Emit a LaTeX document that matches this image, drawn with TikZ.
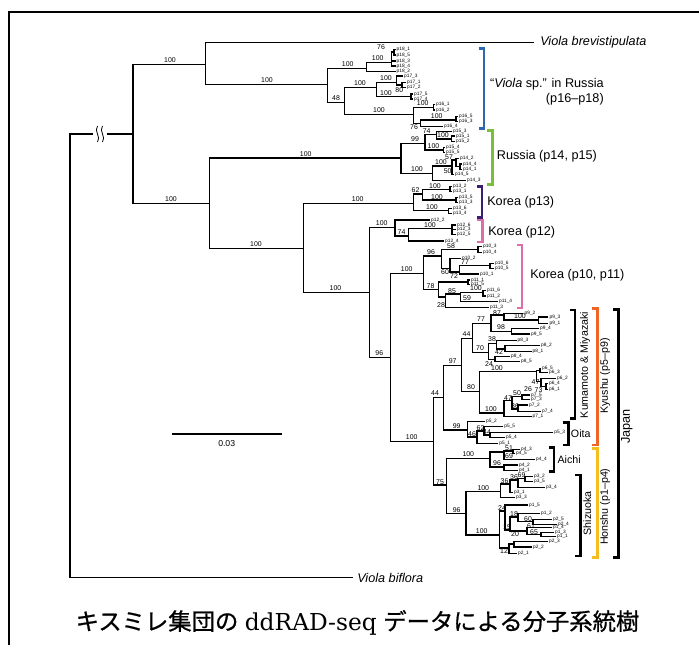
\documentclass[tikz,border=0pt]{standalone}
\usepackage{fontspec}
\setmainfont{Liberation Sans}
\newfontfamily\jpfont[FakeBold=0.8]{Noto Sans CJK JP}
\newfontfamily\ttlserif{DejaVu Serif}

\definecolor{cladeblue}{HTML}{2E68B2}
\definecolor{cladegreen}{HTML}{7ABE3C}
\definecolor{cladepurple}{HTML}{3C1E6E}
\definecolor{cladepink}{HTML}{DC6EAA}
\definecolor{cladeorange}{HTML}{F06428}
\definecolor{cladeyellow}{HTML}{F5BE1E}

% clade: node x, upper y, lower y, end of upper branch, end of lower branch
\newcommand\clade[5]{\draw[br] (#4,#2) -- (#1,#2) -- (#1,#3) -- (#5,#3);}
\newcounter{bsn}
\newcommand\bsv[3]{\stepcounter{bsn}\node[bs] (bs\arabic{bsn}) at (#1,#2) {#3};}
\newcommand\tipl[4]{\node[tip] (p#3-#4) at (#1,#2) {p#3\_#4};}
\newcommand\brak[4]{\draw[#1] ({#2-5.5},#3) -- (#2,#3) -- (#2,#4) -- ({#2-5.5},#4);}

\begin{document}
\begin{tikzpicture}[x=0.75pt,y=-0.75pt,line join=miter,
  br/.style={line width=0.85pt},
  bs/.style={font=\fontsize{5.2}{5.2}\selectfont,inner sep=0pt},
  tip/.style={anchor=west,font=\fontsize{3.6}{3.6}\selectfont,inner sep=0.3pt},
  grp/.style={anchor=west,font=\fontsize{9.5}{11.5}\selectfont,inner sep=0pt},
  sgrp/.style={font=\fontsize{8}{9}\selectfont,inner sep=0pt},
  brk/.style={line width=2.2pt},
  brkk/.style={line width=1.9pt,black}]
\useasboundingbox (0,0) rectangle (699,645);
\draw[line width=1pt] (9,645) -- (9,12) -- (699,12);

% root and outgroups
\draw[br] (92.7,134) -- (70,134) -- (70,577.7) -- (353,577.7);
\draw[br] (107.3,134) -- (133,134);
\draw[line width=0.6pt] (97.5,126) .. controls (93.5,131) and (101.5,137) .. (97.5,142);
\draw[line width=0.6pt] (102.5,126) .. controls (98.5,131) and (106.5,137) .. (102.5,142);
\clade{133}{64.7}{203.7}{205.7}{209.3}
\clade{205.7}{42.7}{84.3}{534.3}{327.7}
\node[grp,font=\fontsize{9.5}{11.5}\selectfont\itshape] (brev) at (540,42.7) {Viola brevistipulata};
\node[grp,font=\fontsize{9.5}{11.5}\selectfont\itshape] (bifl) at (357,577.7) {Viola biflora};
\bsv{170}{60.5}{100}
\bsv{267}{80.3}{100}
\bsv{171}{199.5}{100}

% Viola sp. in Russia
\clade{327.7}{68.3}{102.7}{366.7}{344.3}
\clade{366.7}{62.7}{71.7}{391.7}{395.5}
\clade{391.7}{52}{66}{394}{395.5}
\draw[br] (391.7,61) -- (395.5,61);
\clade{394}{49.5}{55}{395.5}{395.5}
\clade{344.3}{87.3}{114.3}{376.7}{413.3}
\clade{376.7}{82.3}{96.7}{396.7}{411}
\clade{396.7}{76}{85}{403}{402}
\clade{402}{82.3}{87.3}{406}{406}
\clade{411}{94}{99}{413}{413}
\clade{413.3}{107.7}{123.5}{433.3}{420.7}
\clade{433.3}{104.3}{110}{435}{435}
\clade{420.7}{120}{126.7}{456}{443}
\clade{456}{116.7}{121.7}{458}{458}
\tipl{396}{49.5}{18}{1} \tipl{396}{55}{18}{5} \tipl{396}{61}{18}{3} \tipl{396}{66}{18}{4} \tipl{396}{71.7}{18}{2}
\tipl{403.5}{76}{17}{3} \tipl{406.5}{82.3}{17}{1} \tipl{406.5}{87.3}{17}{2} \tipl{413.5}{94}{17}{5} \tipl{413.5}{99}{17}{4}
\tipl{435.5}{104.3}{16}{1} \tipl{435.5}{110}{16}{2} \tipl{458.5}{116.7}{16}{5} \tipl{458.5}{121.7}{16}{3} \tipl{443.5}{126.7}{16}{4}
\bsv{381}{47.5}{76} \bsv{377.7}{58.5}{100} \bsv{347.7}{64}{100} \bsv{360}{83.5}{100}
\bsv{386}{78.5}{100} \bsv{399.3}{90.5}{80} \bsv{386}{93}{100} \bsv{336}{98.5}{48}
\bsv{379}{110.5}{100} \bsv{422.7}{103.5}{100} \bsv{436.7}{116}{100} \bsv{414}{127.5}{76}

% Russia
\clade{209.3}{158}{248.3}{401}{303.3}
\clade{401}{143.3}{173.3}{425}{432.7}
\clade{425}{134.3}{150}{436.7}{443.3}
\clade{436.7}{131.7}{139}{452}{451.7}
\clade{451.7}{136}{141.5}{455}{455}
\clade{443.3}{147.3}{152.3}{445}{445}
\clade{432.7}{166}{180.7}{452}{466}
\clade{452}{160}{174.3}{456}{454}
\clade{456}{158.3}{166.5}{459}{460}
\clade{460}{164}{169.3}{462}{462}
\tipl{452.5}{131.7}{15}{3} \tipl{455.5}{136}{15}{1} \tipl{455.5}{141.5}{15}{2} \tipl{445.5}{147.3}{15}{4} \tipl{445.5}{152.3}{15}{5}
\tipl{459.5}{158.3}{14}{2} \tipl{462.5}{164}{14}{4} \tipl{462.5}{169.3}{14}{1} \tipl{454.5}{174.3}{14}{5} \tipl{466.5}{180.7}{14}{3}
\bsv{305.7}{154}{100} \bsv{256}{244}{100}
\bsv{426.7}{131}{74} \bsv{443}{135.5}{100} \bsv{415}{139.5}{99} \bsv{433.5}{146.3}{100}
\bsv{417}{169.5}{100} \bsv{441}{162.5}{100} \bsv{449}{157}{57} \bsv{447.7}{171.5}{50}

% Korea p13
\clade{303.3}{203.7}{292.7}{413.3}{369.3}
\clade{413.3}{194}{210.7}{422.7}{448.3}
\clade{422.7}{189.3}{200}{450}{456}
\clade{450}{186.7}{191.7}{452}{452}
\clade{456}{197.3}{202.7}{458}{458}
\clade{448.3}{208.3}{213.3}{452}{452}
\tipl{452.5}{186.7}{13}{2} \tipl{452.5}{191.7}{13}{1} \tipl{458.5}{197.3}{13}{5} \tipl{458.5}{202.7}{13}{3} \tipl{452.5}{208.3}{13}{6} \tipl{452.5}{213.3}{13}{4}
\bsv{357.7}{199.5}{100} \bsv{415.5}{190.5}{62} \bsv{435}{186}{100} \bsv{437}{197}{100} \bsv{432}{207}{100}
\bsv{335.5}{288.5}{100}

% Korea p12
\clade{369.3}{227.3}{357.3}{395}{390.7}
\clade{395}{220}{236}{430}{408.3}
\clade{408.3}{228.5}{241}{452}{444}
\clade{452}{225}{234.3}{456}{456}
\draw[br] (452,229.5) -- (456,229.5);
\tipl{430.5}{220}{12}{2} \tipl{456.5}{225}{12}{6} \tipl{456.5}{229.5}{12}{3} \tipl{456.5}{234.3}{12}{5} \tipl{444.5}{241}{12}{4}
\bsv{381.7}{223}{100} \bsv{401.5}{232.5}{74} \bsv{430}{225}{100}

% Korea p10, p11
\clade{390.7}{273.3}{441.7}{423.3}{433.3}
\clade{423.3}{256}{289.3}{441.7}{438.3}
\clade{441.7}{249.5}{268.3}{478}{450}
\clade{478}{246.7}{252.3}{482}{482}
\clade{450}{258.3}{272}{461}{459.3}
\clade{459.3}{265.5}{274}{490}{479}
\clade{490}{263.3}{268.3}{494}{494}
\clade{438.3}{282}{297}{468}{445.7}
\clade{468}{280}{284.3}{470}{470}
\clade{445.7}{294}{307.8}{460.7}{489}
\clade{460.7}{292.5}{301.7}{483}{498}
\clade{483}{290.5}{296}{486}{486}
\tipl{482.5}{246.7}{10}{3} \tipl{482.5}{252.3}{10}{4} \tipl{461.5}{258.3}{10}{2} \tipl{494.5}{263.3}{10}{6} \tipl{494.5}{268.3}{10}{5} \tipl{479.5}{274}{10}{1}
\tipl{470.5}{280}{11}{1} \tipl{470.5}{284.3}{11}{5} \tipl{486.5}{290.5}{11}{6} \tipl{486.5}{296}{11}{2} \tipl{498.5}{301.7}{11}{4} \tipl{489.5}{307.8}{11}{3}
\bsv{406.7}{269.5}{100} \bsv{431}{252.5}{96} \bsv{451}{246}{58} \bsv{445}{271.8}{60} \bsv{465}{262}{77}
\bsv{454}{276.5}{72} \bsv{430.5}{286}{78} \bsv{441}{305}{28} \bsv{452}{291}{85} \bsv{476}{288}{100} \bsv{467}{298.3}{59}
\bsv{379.3}{353.5}{96}

% Japan: Kyushu
\clade{433.3}{397.7}{485}{443.3}{446.7}
\clade{443.3}{365.7}{430}{461.7}{467.3}
\clade{461.7}{338.3}{391.7}{472.7}{479.3}
\clade{472.7}{323.3}{352.3}{491}{488.3}
\clade{491}{315}{331.7}{504}{511.7}
\clade{504}{313.3}{320}{523.3}{538.3}
\clade{538.3}{317}{323.5}{548.3}{548.3}
\clade{511.7}{328.5}{334}{539}{530}
\clade{488.3}{343.3}{359.3}{496.7}{495}
\clade{496.7}{340.7}{349}{516.7}{505}
\clade{505}{345.7}{351.7}{540}{531.7}
\clade{495}{356.7}{361.7}{510}{520}
\clade{479.3}{371.7}{413}{536.7}{504}
\clade{536.7}{370.5}{381.5}{540}{541}
\clade{540}{368.3}{372.7}{541}{548}
\clade{541}{378.3}{386.3}{556}{546}
\clade{546}{383.3}{389.3}{548}{548}
\clade{504}{400.5}{416.7}{512}{531.7}
\clade{512}{396.5}{409}{522}{518}
\clade{522}{395}{399.8}{530}{530}
\clade{518}{405}{411.7}{528}{541}
\clade{467.3}{421.7}{437}{485}{477}
\clade{477}{431}{443.3}{484}{498.3}
\clade{484}{426.7}{435}{503.3}{490}
\clade{490}{432.3}{437.7}{553.3}{505}
\tipl{524}{313.3}{9}{2} \tipl{549}{317}{9}{3} \tipl{549}{323.5}{9}{1} \tipl{539.5}{328.5}{9}{4} \tipl{530.5}{334}{9}{5}
\tipl{517}{340.7}{8}{3} \tipl{540.5}{345.7}{8}{2} \tipl{532}{351.7}{8}{1} \tipl{510.5}{356.7}{8}{4} \tipl{520.5}{361.7}{8}{5}
\tipl{541.5}{368.3}{6}{5} \tipl{548.5}{372.7}{6}{3} \tipl{556.5}{378.3}{6}{2} \tipl{548.5}{383.3}{6}{4} \tipl{548.5}{389.3}{6}{1}
\tipl{530.5}{395}{7}{5} \tipl{530.5}{399.8}{7}{3} \tipl{528.5}{405}{7}{2} \tipl{541.5}{411.7}{7}{4} \tipl{532}{416.7}{7}{1}
\tipl{485.5}{421.7}{5}{2} \tipl{503.8}{426.7}{5}{5} \tipl{553.8}{432.3}{5}{3} \tipl{505.5}{437.7}{5}{4} \tipl{498.8}{443.3}{5}{1}
\bsv{411.7}{437.5}{100} \bsv{435}{393}{44} \bsv{452.7}{361}{97} \bsv{466.5}{334}{44} \bsv{471}{387.5}{80}
\bsv{481}{319}{77} \bsv{480}{348}{70} \bsv{497}{312.8}{87} \bsv{501}{327.5}{98} \bsv{520}{316.5}{100}
\bsv{492}{339.5}{38} \bsv{499}{352}{42} \bsv{489}{364.5}{24} \bsv{497}{368}{100} \bsv{491}{409.5}{100}
\bsv{535.5}{381.8}{47} \bsv{528}{388.8}{26} \bsv{538.5}{390.4}{73} \bsv{517}{393}{50} \bsv{508}{398}{47} \bsv{515}{406}{36}
\bsv{456.7}{426.5}{99} \bsv{472}{434}{46} \bsv{480.5}{428.5}{62} \bsv{487}{432.5}{44}

% Japan: Honshu
\clade{446.7}{458.3}{513.3}{490}{466}
\clade{490}{452}{467}{504}{504}
\clade{504}{451}{459.3}{513}{535}
\clade{513}{449.3}{453.3}{520}{515}
\clade{504}{465}{470.7}{518}{518}
\clade{466}{491.7}{535}{500.7}{499.3}
\clade{500.7}{484}{497.3}{510}{515}
\clade{510}{480}{492.3}{518}{513}
\clade{518}{478.5}{487.3}{525}{545}
\clade{525}{476.7}{481.7}{533}{533}
\clade{499.3}{511}{548}{505}{509}
\clade{505}{505}{530}{528}{510}
\clade{510}{517}{531}{518}{527}
\clade{518}{513.3}{521.7}{540}{533}
\clade{533}{519.3}{524.3}{552}{557}
\clade{527}{527.7}{534.5}{552}{541}
\clade{541}{532.3}{536.7}{554}{556}
\clade{509}{544}{553.3}{514}{517}
\clade{514}{541.5}{547}{548}{532}
\tipl{520.5}{449.3}{4}{3} \tipl{515.5}{453.3}{4}{5} \tipl{535.5}{459.3}{4}{4} \tipl{518.5}{465}{4}{2} \tipl{518.5}{470.7}{4}{1}
\tipl{533.5}{476.7}{3}{2} \tipl{533.5}{481.7}{3}{5} \tipl{545.5}{487.3}{3}{4} \tipl{513.5}{492.3}{3}{1} \tipl{515.5}{497.3}{3}{3}
\tipl{528.5}{505}{1}{5} \tipl{540.5}{513.3}{1}{2} \tipl{552.5}{519.3}{2}{5} \tipl{557.5}{524.3}{2}{4} \tipl{552.5}{527.7}{1}{4}
\tipl{554.5}{532.3}{1}{3} \tipl{556.5}{536.7}{1}{1} \tipl{548.5}{541.5}{2}{3} \tipl{532.5}{547}{2}{2} \tipl{517.5}{553.3}{2}{1}
\bsv{440}{482}{75} \bsv{468.3}{454.5}{100} \bsv{456.7}{510}{96} \bsv{509}{448.5}{51} \bsv{509}{456.5}{69} \bsv{497}{463.5}{96}
\bsv{483.3}{488.5}{100} \bsv{481.7}{531.5}{100} \bsv{504.5}{481}{36} \bsv{514}{477}{36} \bsv{521.5}{475.5}{69}
\bsv{502}{508.5}{24} \bsv{514}{514.5}{18} \bsv{528}{518.8}{60} \bsv{507}{527.5}{15} \bsv{515}{534}{20}
\bsv{531}{526}{61} \bsv{534}{532}{65} \bsv{504}{551.5}{12}

% group brackets
\brak{brk,cladeblue}{484}{48.3}{128.3}
\brak{brk,cladegreen}{492.3}{130.7}{184.3}
\brak{brk,cladepurple}{482}{186.7}{217.5}
\brak{brk,cladepink}{482.5}{220}{242}
\brak{brk,cladepink}{522}{245}{308}
\brak{brk,cladeorange}{597.7}{308.3}{445}
\brak{brk,cladeyellow}{597.7}{448.3}{557.3}
\brak{brkk}{575}{310}{418.3}
\brak{brkk}{568.3}{422.3}{445}
\brak{brkk}{554}{447.7}{471.7}
\brak{brkk}{580.7}{475}{556}
\brak{brkk}{618.3}{309.3}{557.3}

\node[grp,anchor=east,align=right] (vsp) at (604,91.7) {“\textit{Viola} sp.” in Russia\\(p16–p18)};
\node[grp] (rus) at (496.7,156) {Russia (p14, p15)};
\node[grp] (kor13) at (487,202.7) {Korea (p13)};
\node[grp] (kor12) at (488,232.3) {Korea (p12)};
\node[grp] (kor1011) at (530,275.7) {Korea (p10, p11)};
\node[sgrp,anchor=west] (oita) at (570.7,433.3) {Oita};
\node[sgrp,anchor=west] (aichi) at (557.3,459.3) {Aichi};
\node[sgrp,rotate=90] (kuma) at (585,365) {Kumamoto \& Miyazaki};
\node[sgrp,rotate=90] (kyu) at (605,376) {Kyushu (p5–p9)};
\node[sgrp,rotate=90] (hon) at (605,506.7) {Honshu (p1–p4)};
\node[sgrp,rotate=90] (shiz) at (587.3,513.3) {Shizuoka};
\node[sgrp,rotate=90,font=\fontsize{9.5}{11}\selectfont] (jap) at (626.7,426.7) {Japan};

% scale bar
\draw[line width=1.1pt] (171.7,434) coordinate (sb1) -- (282,434) coordinate (sb2);
\node[font=\fontsize{6.5}{7}\selectfont,inner sep=0pt] (sbl) at (226.7,443.8) {0.03};

% title
\node[font=\fontsize{17.5}{20}\selectfont,inner sep=0pt] (ttl) at (357.5,622.5)
  {{\jpfont キスミレ集団の} {\ttlserif ddRAD-seq} {\jpfont データによる分子系統樹}};
\end{tikzpicture}
\end{document}
